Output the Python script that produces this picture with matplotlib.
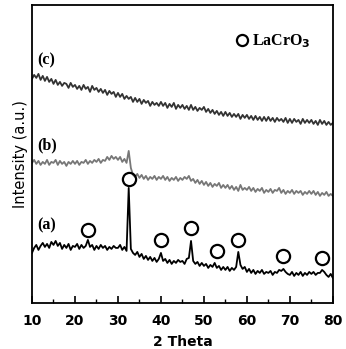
import numpy as np
import matplotlib
matplotlib.use("Agg")
import matplotlib.pyplot as plt
from matplotlib.ticker import MultipleLocator

# 2-theta grid, 0.5 degree steps from 10 to 80
two_theta = np.arange(10, 80.01, 0.5)

# (c) amorphous trace, top
curve_c = [
    224, 228, 225, 229, 223, 227, 222, 226, 221, 224,
    219, 223, 218, 221, 217, 220, 219, 215, 220, 216,
    218, 214, 217, 213, 218, 214, 216, 211, 217, 213,
    215, 211, 214, 210, 213, 208, 212, 209, 211, 206,
    210, 206, 209, 204, 207, 204, 206, 201, 205, 201,
    204, 199, 203, 200, 202, 197, 201, 198, 200, 197,
    201, 197, 200, 195, 199, 196, 200, 194, 198, 195,
    198, 194, 197, 193, 198, 193, 196, 192, 195, 193,
    196, 191, 194, 190, 193, 189, 192, 188, 191, 187,
    191, 187, 190, 186, 189, 186, 189, 184, 188, 185,
    188, 184, 187, 183, 187, 183, 186, 182, 186, 182,
    186, 182, 185, 181, 185, 182, 184, 181, 185, 180,
    184, 180, 184, 181, 183, 179, 184, 180, 183, 180,
    183, 179, 182, 178, 183, 179, 182, 178, 181, 178,
    180,
]

# (b) middle trace
curve_b = [
    140, 143, 139, 142, 138, 141, 139, 143, 138, 141,
    140, 143, 138, 142, 139, 141, 137, 141, 139, 142,
    139, 142, 138, 141, 140, 143, 139, 142, 140, 143,
    141, 144, 140, 143, 142, 146, 143, 147, 144, 146,
    143, 146, 141, 144, 140, 152, 135, 128, 126, 129,
    125, 128, 124, 127, 123, 126, 124, 127, 123, 126,
    124, 127, 123, 126, 122, 125, 123, 126, 122, 125,
    123, 126, 124, 127, 122, 124, 120, 123, 119, 122,
    118, 121, 117, 120, 116, 119, 117, 120, 115, 118,
    115, 118, 114, 117, 113, 116, 112, 118, 113, 115,
    113, 116, 112, 115, 111, 114, 112, 115, 110, 113,
    111, 114, 110, 113, 112, 115, 110, 113, 109, 112,
    110, 113, 109, 112, 110, 112, 108, 111, 109, 112,
    109, 112, 108, 111, 107, 110, 108, 111, 107, 109,
    107,
]

# (a) crystalline trace, bottom
curve_a = [
    50, 55, 58, 53, 57, 60, 56, 59, 55, 61,
    58, 62, 57, 60, 54, 58, 55, 59, 53, 57,
    56, 59, 54, 58, 55, 57, 63, 56, 58, 53,
    57, 54, 58, 55, 57, 53, 56, 54, 57, 55,
    55, 58, 53, 56, 52, 115, 54, 50, 48, 51,
    46, 49, 44, 47, 43, 46, 42, 45, 41, 44,
    50, 42, 44, 40, 43, 39, 42, 40, 43, 41,
    42, 39, 44, 45, 62, 42, 39, 41, 37, 40,
    37, 39, 35, 38, 36, 40, 35, 37, 33, 36,
    33, 36, 32, 35, 33, 36, 51, 38, 34, 36,
    31, 34, 30, 33, 29, 32, 30, 33, 29, 31,
    30, 32, 28, 31, 30, 33, 32, 34, 31, 29,
    28, 31, 27, 30, 28, 31, 27, 30, 28, 31,
    29, 31, 28, 30, 30, 33, 31, 28, 26, 29,
    25,
]

# LaCrO3 reflection markers
peak_x = [23, 32.5, 40, 47, 53, 58, 68.5, 77.5]
peak_y = [73, 124, 63, 75, 52, 63, 47, 45]

fig = plt.figure(figsize=(3.46, 3.49), dpi=100)
ax = fig.add_axes([0.0925, 0.132, 0.8695, 0.854])

ax.plot(two_theta, curve_c, color="#333333", lw=1.3)
ax.plot(two_theta, curve_b, color="#777777", lw=1.3)
ax.plot(two_theta, curve_a, color="black", lw=1.3)

ax.plot(peak_x, peak_y, "o", ms=9.5, mfc="none", mec="black", mew=1.6, ls="none")

# legend marker
ax.plot([58.8], [263], "o", ms=8, mfc="none", mec="black", mew=1.6)
ax.text(61.3, 262, r"LaCrO$_\mathbf{3}$", family="Liberation Serif", fontweight="bold",
        fontsize=11.5, va="center", ha="left")

serif = dict(family="Liberation Serif", fontweight="bold", fontsize=11.5, ha="left", va="center")
ax.text(11.3, 243, "(c)", **serif)
ax.text(11.3, 158, "(b)", **serif)
ax.text(11.3, 78, "(a)", **serif)

ax.set_xlim(10, 80)
ax.set_ylim(0, 298)
ax.set_yticks([])
ax.xaxis.set_major_locator(MultipleLocator(10))
ax.xaxis.set_minor_locator(MultipleLocator(5))
ax.tick_params(axis="x", which="major", direction="in", length=5, width=1.2, pad=8)
ax.tick_params(axis="x", which="minor", direction="in", length=3, width=1.0)
for lbl in ax.get_xticklabels():
    lbl.set_fontweight("bold")
    lbl.set_fontsize(10)
for sp in ax.spines.values():
    sp.set_linewidth(1.3)

ax.set_xlabel("2 Theta", fontsize=10, fontweight="bold", labelpad=5)
ax.set_ylabel("Intensity (a.u.)", fontsize=10.5, labelpad=3)

fig.savefig("out.png", dpi=100)
